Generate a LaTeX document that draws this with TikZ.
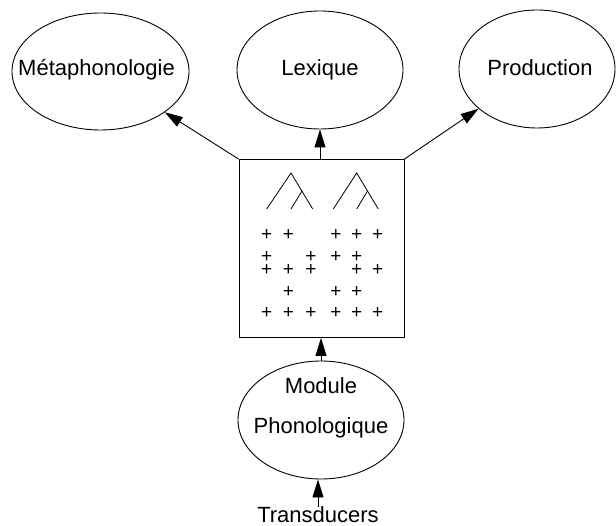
\documentclass[tikz,border=0pt]{standalone}
\usepackage{fontspec}
\setmainfont{Liberation Sans}
\usetikzlibrary{arrows.meta,shapes.geometric}
\begin{document}
\begin{tikzpicture}[x=1pt,y=-1pt,
  ell/.style={draw,ellipse,line width=0.9pt,inner sep=0pt},
  lbl/.style={font=\fontsize{22}{26}\selectfont,inner sep=0pt},
  arr/.style={line width=0.9pt,-{Triangle[length=18pt,width=11pt]}},
  pl/.style={font=\fontsize{19}{19}\selectfont,inner sep=0pt},
  tree/.style={line width=0.8pt}]
\useasboundingbox (0,0) rectangle (616,526);
\node[ell,minimum width=177pt,minimum height=117pt] (meta) at (100.5,71.5) {};
\node[lbl] (metatxt) at (96.5,70) {Métaphonologie};
\node[ell,minimum width=166pt,minimum height=118pt] (lex) at (320,70) {};
\node[lbl] (lextxt) at (320,70) {Lexique};
\node[ell,minimum width=156pt,minimum height=118pt] (prod) at (537,69) {};
\node[lbl] (prodtxt) at (540,68) {Production};
\node[draw,line width=0.9pt,minimum width=165pt,minimum height=178pt,inner sep=0pt] (box) at (321.5,248.5) {};
\node[ell,minimum width=166pt,minimum height=118pt] (mod) at (321,420) {};
\node[lbl,align=center] (modtxt) at (321,408) {Module\\[14pt]Phonologique};
\node[lbl] (trans) at (318,515) {Transducers};
% arrows
\draw[arr] (box.north west) -- (meta);
\draw[arr] (box.north -| lex) -- (lex);
\draw[arr] (box.north east) -- (prod);
\draw[arr] (mod.north) -- (mod.north |- box.south);
\draw[arr] (trans.north) -- (trans.north |- mod.south);
% trees
\draw[tree] (266.7,209) -- (291,173) -- (312.7,209);
\draw[tree] (302,191) -- (291,209);
\draw[tree] (333.3,209) -- (356.7,173) -- (378.3,209);
\draw[tree] (367.5,191) -- (356.7,209);
% pluses
\foreach \x/\y in {266.7/235,288.3/235,336/235,356.7/235,377.7/235,
  266.7/256.7,311/256.7,336/256.7,356.7/256.7,
  266.7/270,288.3/270,311/270,356.7/270,377.7/270,
  288.3/291.7,336/291.7,356.7/291.7,
  266.7/313.3,288.3/313.3,311/313.3,336/313.3,356.7/313.3,377.7/313.3}
  \node[pl] at (\x,\y) {+};
\end{tikzpicture}
\end{document}
